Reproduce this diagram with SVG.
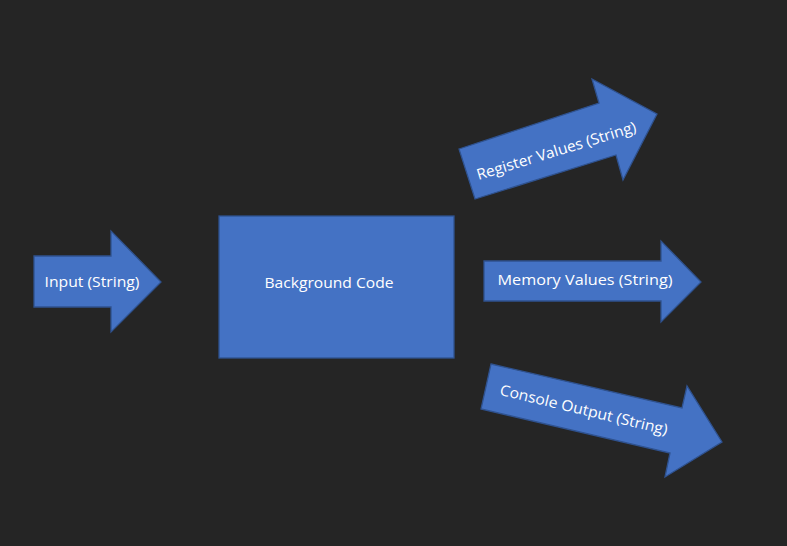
<svg xmlns="http://www.w3.org/2000/svg" width="787" height="546" viewBox="0 0 787 546">
<style>
.shape{fill:#4472C4;stroke:#2F528F;stroke-width:1.3}
.lbl{font-family:"Open Sans","Liberation Sans",sans-serif;font-size:15px;fill:#FFFFFF;text-anchor:middle;dominant-baseline:central}
</style>
<rect width="787" height="546" fill="#252525"/>
<g id="connectors">
<g id="input-arrow">
<polygon class="shape" points="34,256 111,256 111,231 161,282 111,332 111,307 34,307"/>
<text class="lbl" x="92" y="281" textLength="95" lengthAdjust="spacingAndGlyphs">Input (String)</text>
</g>
<g id="register-arrow">
<polygon class="shape" points="459,149 599,103 592,79 657,114 623,180 616,155 475,199"/>
<text class="lbl" transform="translate(556,150) rotate(-17)" textLength="166" lengthAdjust="spacingAndGlyphs">Register Values (String)</text>
</g>
<g id="memory-arrow">
<polygon class="shape" points="484,261 661,261 661,241 701,282 661,322 661,301 484,301"/>
<text class="lbl" x="585" y="279" textLength="175" lengthAdjust="spacingAndGlyphs">Memory Values (String)</text>
</g>
<g id="console-arrow">
<polygon class="shape" points="491,364 682,408 687,386 722,442 665,477 670,453 481,409"/>
<text class="lbl" transform="translate(584,409) rotate(13.5)" textLength="172" lengthAdjust="spacingAndGlyphs">Console Output (String)</text>
</g>
</g>
<g id="background-code">
<rect class="shape" x="219" y="216" width="235" height="142"/>
<text class="lbl" x="329" y="282" textLength="129" lengthAdjust="spacingAndGlyphs">Background Code</text>
</g>
</svg>
